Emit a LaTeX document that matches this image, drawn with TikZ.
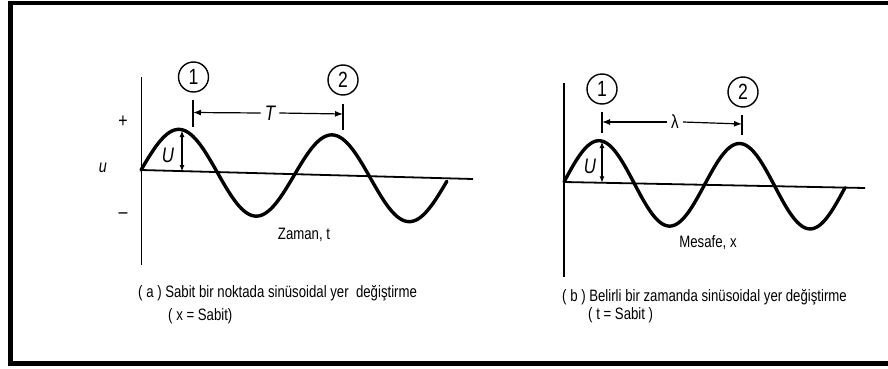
\documentclass[tikz,border=0pt]{standalone}
\usepackage{fontspec}
\setmainfont{Liberation Sans}[FakeStretch=0.8]
\usetikzlibrary{arrows.meta}
\begin{document}
\begin{tikzpicture}[x=1pt,y=-1pt,
  frame/.style={line width=4.5pt,black},
  axisline/.style={line width=1.8pt},
  wave/.style={line width=3.4pt,line join=round,line cap=round},
  numcirc/.style={circle,draw,line width=1.4pt,minimum size=30pt,inner sep=0pt,font=\fontsize{22}{24}\selectfont},
  tick/.style={line width=1.4pt},
  dimarr/.style={line width=1.2pt,-{Latex[length=8pt,width=6pt]}},
  amparr/.style={line width=1.2pt,{Latex[length=6.5pt,width=5pt]}-{Latex[length=6.5pt,width=5pt]}},
  lbl/.style={inner sep=0pt,font=\fontsize{16.5}{19}\selectfont},
  biglbl/.style={inner sep=0pt,font=\fontsize{21}{23}\selectfont\itshape},
  captext/.style={inner sep=0pt,anchor=west,font=\fontsize{16.5}{19}\selectfont}
]
\useasboundingbox (0,0) rectangle (888,369);
\clip (0,0) rectangle (888,369);
\draw[frame] (10.3,3) rectangle (900,363.5);

% ---------- panel (a) ----------
\coordinate (ya1) at (141.5,77);
\coordinate (ya2) at (141.5,265);
\draw[axisline] (ya1) -- (ya2);
\coordinate (xa1) at (141,170);
\coordinate (xa2) at (473,179);
\draw[axisline] (xa1) -- (xa2);
\draw[wave] plot[domain=0:2,samples=160,smooth] ({141+153*\x},{170+0.036*153*\x-42*sin(360*\x)});

\node[numcirc] (ca1) at (193.5,77) {1};
\node[numcirc] (ca2) at (343,80) {2};
\coordinate (ta1) at (193,100);
\coordinate (ta1b) at (193,127);
\coordinate (ta2) at (343,104);
\coordinate (ta2b) at (343,130);
\draw[tick] (ta1) -- (ta1b);
\draw[tick] (ta2) -- (ta2b);
\node[biglbl] (T) at (270,113) {T};
\coordinate (tl) at (193,112.5);
\coordinate (tr) at (343,114);
\draw[dimarr] (T.west) ++(-4,0) -- (tl);
\draw[dimarr] (T.east) ++(4,0) -- (tr);

\node[lbl,font=\fontsize{20}{22}\selectfont] (plus) at (123,122) {+};
\node[lbl,font=\fontsize{20}{22}\selectfont] (minus) at (123,216) {\textendash};
\node[lbl,font=\fontsize{18}{20}\selectfont\itshape] (u) at (103,168) {u};
\coordinate (pa) at (182,130.5);
\coordinate (ba) at (182,171.5);
\draw[amparr] (pa) -- (ba);
\node[biglbl] (Ua) at (168,155) {U};
\node[lbl] (zaman) at (304,235) {Zaman, t};
\node[captext] (capa1) at (138,293) {( a ) Sabit bir noktada sinüsoidal yer\ \ değiştirme};
\node[captext] (capa2) at (168,316) {( x = Sabit)};

% ---------- panel (b) ----------
\coordinate (yb1) at (564,83);
\coordinate (yb2) at (564,277);
\draw[axisline] (yb1) -- (yb2);
\coordinate (xb1) at (564,182);
\coordinate (xb2) at (865,188);
\draw[axisline] (xb1) -- (xb2);
\draw[wave] plot[domain=0:2,samples=160,smooth] ({564+140.5*\x},{182+0.02*140.5*\x-42*sin(360*\x)});

\node[numcirc] (cb1) at (602,89) {1};
\node[numcirc] (cb2) at (743,92) {2};
\coordinate (tb1) at (602,112);
\coordinate (tb1b) at (602,133);
\coordinate (tb2) at (742,115);
\coordinate (tb2b) at (742,135);
\draw[tick] (tb1) -- (tb1b);
\draw[tick] (tb2) -- (tb2b);
\node[lbl,font=\fontsize{19}{21}\selectfont] (lam) at (675,122) {λ};
\coordinate (bl) at (602,122);
\coordinate (br) at (742,124);
\draw[dimarr] (lam.west) ++(-4,0) -- (bl);
\draw[dimarr] (lam.east) ++(4,0) -- (br);

\coordinate (pb) at (602,141.5);
\coordinate (bb) at (602,182.8);
\draw[amparr] (pb) -- (bb);
\node[biglbl] (Ub) at (590,166) {U};
\node[lbl] (mesafe) at (708,243) {Mesafe, x};
\node[captext] (capb1) at (562,297) {( b ) Belirli bir zamanda sinüsoidal yer değiştirme};
\node[captext] (capb2) at (588,315) {( t = Sabit )};
\end{tikzpicture}
\end{document}
